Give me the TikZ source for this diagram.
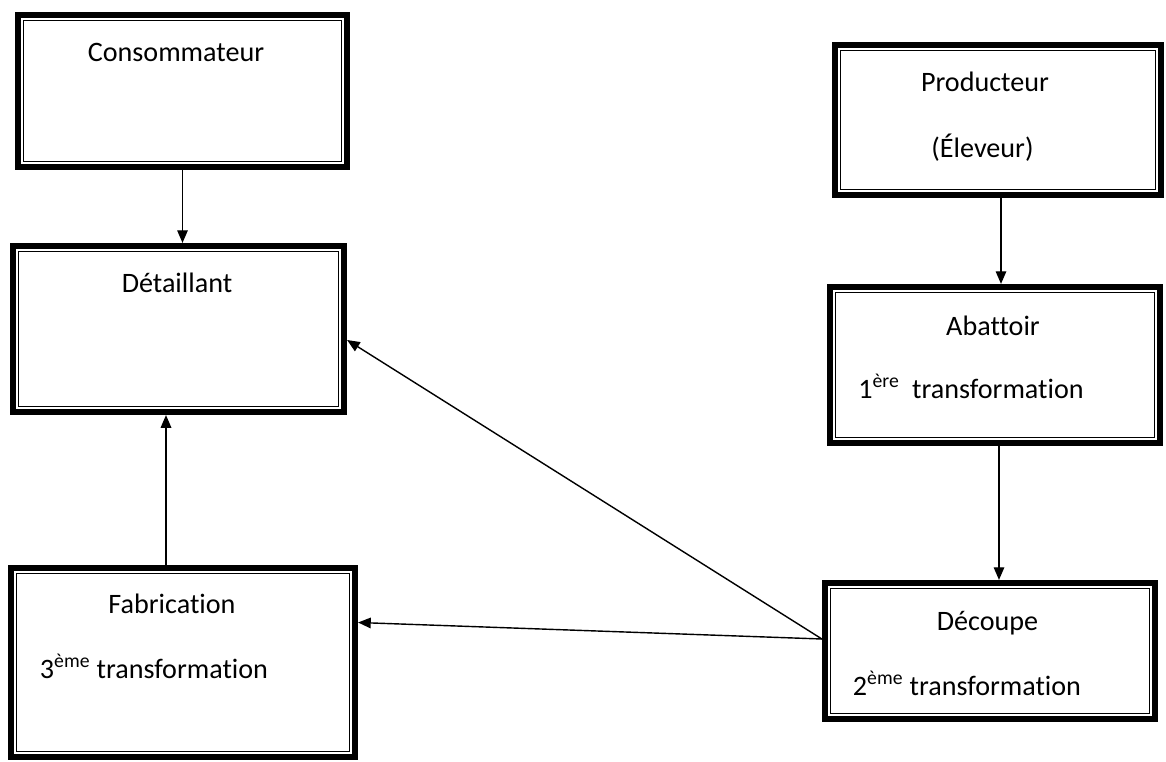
\documentclass[tikz,border=0pt]{standalone}
\usepackage{fontspec}
\setmainfont{Carlito}[Ligatures=NoCommon]
\usetikzlibrary{calc, arrows.meta}

\tikzset{
  bloc/.style={draw, line width=4.4pt, minimum width=#1,
    path picture={\draw[line width=0.9pt]
      ([shift={(4.1pt,-4.1pt)}]path picture bounding box.north west) rectangle
      ([shift={(-4.1pt,4.1pt)}]path picture bounding box.south east);}},
  txt/.style={anchor=base, font=\fontsize{20}{24}\selectfont},
}

\begin{document}
\begin{tikzpicture}[x=0.025cm, y=-0.025cm, >={Triangle[length=9pt,width=7.5pt]}]
\useasboundingbox (0,0) rectangle (1166,762);
% boxes
\node[bloc=329*0.025cm, minimum height=152*0.025cm] (cons) at (182.5,91) {};
\node[bloc=331*0.025cm, minimum height=166*0.025cm] (det) at (178.5,329) {};
\node[bloc=344*0.025cm, minimum height=189*0.025cm] (fab) at (183,662.5) {};
\node[bloc=326*0.025cm, minimum height=150*0.025cm] (prod) at (998,120) {};
\node[bloc=330*0.025cm, minimum height=156*0.025cm] (abat) at (995,365) {};
\node[bloc=330*0.025cm, minimum height=136*0.025cm] (dec) at (990,651) {};
% texts
\node[txt] (t1) at (176,62) {Consommateur};
\node[txt] (t2) at (177,292) {Détaillant};
\node[txt] (t3) at (985,92) {Producteur};
\node[txt] (t4) at (982.5,157) {(Éleveur)};
\node[txt] (t5) at (993,335) {Abattoir};
\node[txt] (t6) at (971,398) {1\textsuperscript{ère}\ \ transformation};
\node[txt] (t7) at (987.5,630) {Découpe};
\node[txt] (t8) at (967,695) {2\textsuperscript{ème} transformation};
\node[txt] (t9) at (172,613) {Fabrication};
\node[txt] (t10) at (154,678) {3\textsuperscript{ème} transformation};
% links
\coordinate (split) at ($(dec.west)+(0,-12)$);
\draw[->, line width=1pt] (cons.south) -- (cons.south |- det.north);
\draw[->, line width=1pt] ($(fab.north)+(-17,0)$) -- ($(fab.north |- det.south)+(-17,0)$);
\draw[->, line width=1pt] ($(prod.south)+(3,0)$) -- ($(prod.south |- abat.north)+(3,0)$);
\draw[->, line width=1pt] ($(abat.south)+(4,0)$) -- ($(abat.south |- dec.north)+(4,0)$);
\draw[->, line width=1pt] (split) -- ($(det.east)+(0,11)$);
\draw[->, line width=1pt] (split) -- ($(fab.east)+(0,-40)$);
\end{tikzpicture}
\end{document}
